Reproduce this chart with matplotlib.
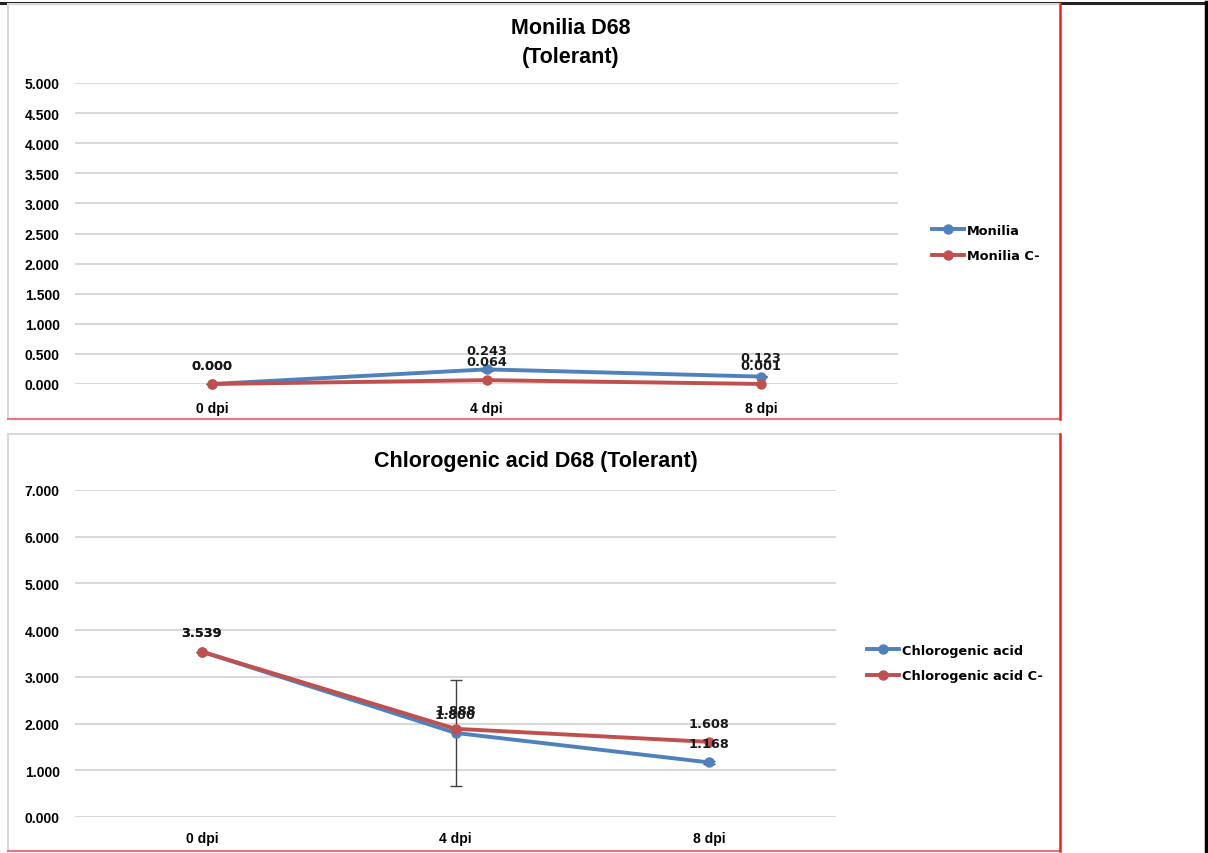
import matplotlib
matplotlib.use("Agg")
import matplotlib.pyplot as plt
from matplotlib.lines import Line2D

W, H = 1208, 854

categories = ["0 dpi", "4 dpi", "8 dpi"]

# Panel 1: Monilia
monilia = [0.000, 0.243, 0.123]
monilia_err = [0.0, 0.02, 0.015]
monilia_c = [0.000, 0.064, 0.001]
monilia_yticks = [0, 0.5, 1, 1.5, 2, 2.5, 3, 3.5, 4, 4.5, 5]

# Panel 2: Chlorogenic acid
chloro = [3.539, 1.800, 1.168]
chloro_err = [0.0, 1.135, 0.03]
chloro_c = [3.539, 1.888, 1.608]
chloro_yticks = [0, 1, 2, 3, 4, 5, 6, 7]

BLUE = "#4F81BD"
RED = "#C0504D"
GRID = "#D9D9D9"

fig = plt.figure(figsize=(W / 100, H / 100), dpi=100)


def rect(x0, y0, x1, y1):
    return [x0 / W, 1 - y1 / H, (x1 - x0) / W, (y1 - y0) / H]


def fx(x):
    return x / W


def fy(y):
    return 1 - y / H


def fline(xs, ys, **kw):
    fig.add_artist(Line2D([fx(x) for x in xs], [fy(y) for y in ys],
                          transform=fig.transFigure, **kw))


# outer frame lines
fline([0, 1206], [4, 4], color="#222222", lw=2.2)
fline([1206, 1206], [3, 854], color="black", lw=2.5)

# panel frames
for (x0, y0, x1, y1) in [(8, 5, 1060, 420), (8, 435, 1060, 852)]:
    fline([x0, x0], [y0, y1], color=GRID, lw=1.5)
    fline([x0, x1], [y0, y0], color=GRID, lw=1.5)
    fline([x0, x1], [y1, y1], color="#E8797A", lw=1.5)
    fline([x1, x1], [y0, y1], color="#FF1A1A", lw=1.8)


def panel(axrect, series, labels, errs, yticks, ymax, title, title_xy, leg_xy,
          xpad):
    ax = fig.add_axes(rect(*axrect))
    x = list(range(len(categories)))
    ax.set_xlim(-0.5, len(categories) - 0.5)
    ax.set_ylim(0, ymax)
    ax.set_yticks(yticks)
    ax.set_yticklabels([f"{v:.3f}" for v in yticks])
    ax.set_xticks(x)
    ax.set_xticklabels(categories)
    for s in ax.spines.values():
        s.set_visible(False)
    ax.tick_params(length=0, labelsize=10, pad=11)
    for lab in ax.get_yticklabels() + ax.get_xticklabels():
        lab.set_fontweight("bold")
        lab.set_family("Liberation Sans")
    ax.tick_params(axis="x", pad=xpad)
    ax.yaxis.grid(True, color=GRID, lw=1.5)
    ax.set_axisbelow(True)
    handles = []
    for vals, col, lab, err in zip(series, [BLUE, RED], labels, errs):
        if err is not None:
            ax.errorbar(x, vals, yerr=err, fmt="none", ecolor="#404040",
                        elinewidth=1, capsize=4, capthick=1, zorder=2)
        h, = ax.plot(x, vals, color=col, lw=2.8, marker="o", ms=6.5,
                     label=lab, zorder=3, clip_on=False)
        handles.append(h)
        for xi, v in zip(x, vals):
            ax.annotate(f"{v:.3f}", (xi, v), xytext=(0, 13.5),
                        textcoords="offset points", ha="center", va="center",
                        fontsize=9.3, fontweight="bold", family="DejaVu Sans",
                        color="#1a1a1a", zorder=4)
    fig.text(fx(title_xy[0]), fy(title_xy[1]), title, ha="center", va="center",
             fontsize=15.5, fontweight="bold", family="Liberation Sans",
             linespacing=1.45)
    fig.legend(handles=handles, loc="center left",
               bbox_to_anchor=(fx(leg_xy[0]), fy(leg_xy[1])),
               frameon=False, handlelength=2.5, handletextpad=0.25,
               labelspacing=0.95,
               prop={"size": 9.3, "weight": "bold", "family": "DejaVu Sans"})
    return ax


panel((75, 84, 898, 385), [monilia, monilia_c], ["Monilia", "Monilia C-"],
      [monilia_err, None], monilia_yticks, 5, "Monilia D68\n(Tolerant)",
      (571, 43), (920, 244), 12)

panel((75, 491, 836, 818), [chloro, chloro_c],
      ["Chlorogenic acid", "Chlorogenic acid C-"],
      [chloro_err, None], chloro_yticks, 7, "Chlorogenic acid D68 (Tolerant)",
      (536, 461), (855, 664), 10)

fig.savefig("out.png", dpi=100)
